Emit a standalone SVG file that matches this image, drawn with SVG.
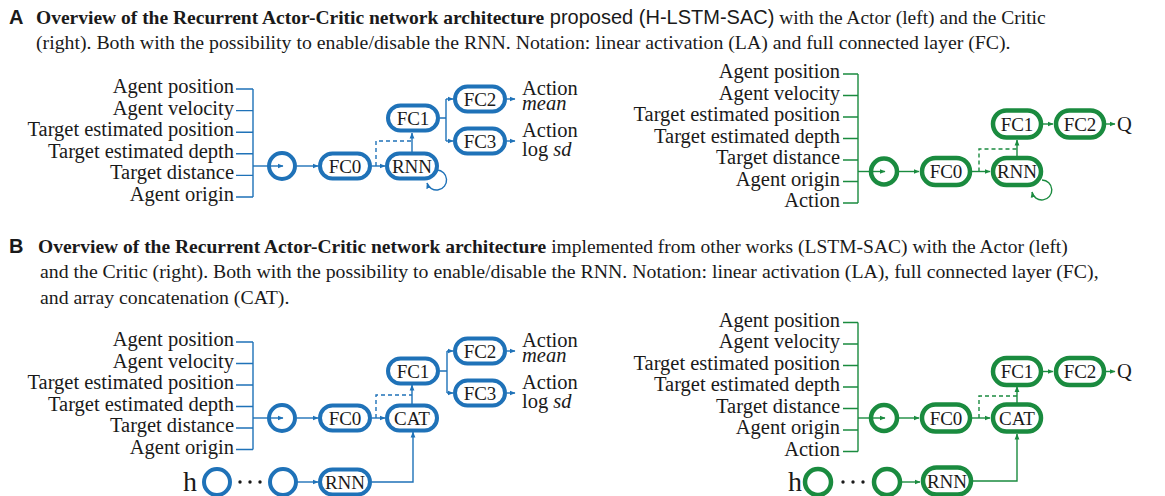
<svg xmlns="http://www.w3.org/2000/svg" width="1165" height="496" viewBox="0 0 1165 496">
<defs>
<marker id="ab" viewBox="0 0 6 6" refX="5.5" refY="3" markerWidth="6" markerHeight="6" markerUnits="userSpaceOnUse" orient="auto"><path d="M0,0.6 L6,3 L0,5.4z" fill="#1f72b8"/></marker>
<marker id="ag" viewBox="0 0 6 6" refX="5.5" refY="3" markerWidth="6" markerHeight="6" markerUnits="userSpaceOnUse" orient="auto"><path d="M0,0.6 L6,3 L0,5.4z" fill="#1a8b3f"/></marker>
</defs>
<style>
text{fill:#1a1a1a}
.h{font-family:"Liberation Serif","Times New Roman",serif;font-size:19.5px}
.h2{font-family:"Liberation Serif","Times New Roman",serif;font-size:19.8px}
.s{font-family:"Liberation Sans",Arial,sans-serif}
.p{font-family:"Liberation Sans",Arial,sans-serif;font-weight:bold;font-size:20px}
.t{font-family:"Liberation Serif","Times New Roman",serif;font-size:20.5px}
.r{text-anchor:end}
.bx{font-family:"Liberation Serif","Times New Roman",serif;font-size:19px;text-anchor:middle}
.nb{fill:#fff;stroke:#1f72b8;stroke-width:4}
.ng{fill:#fff;stroke:#1a8b3f;stroke-width:4.5}
.cb{fill:none;stroke:#1f72b8;stroke-width:4}
.cg{fill:none;stroke:#1a8b3f;stroke-width:4.5}
.lb{fill:none;stroke:#1f72b8;stroke-width:1.4}
.lg{fill:none;stroke:#1a8b3f;stroke-width:1.4}
.mb{marker-end:url(#ab)}
.mg{marker-end:url(#ag)}
.d{stroke-dasharray:4 3}
.hh{font-family:"Liberation Serif","Times New Roman",serif;font-size:28px}
</style>

<!-- headers -->
<g id="captionA">
<text class="p" x="9" y="24">A</text>
<text class="h" x="36" y="24"><tspan font-weight="bold">Overview of the Recurrent Actor-Critic network architecture</tspan><tspan class="s" font-size="20px"> proposed (H-LSTM-SAC)</tspan> with the Actor (left) and the Critic</text>
<text class="h2" x="36" y="49">(right). Both with the possibility to enable/disable the RNN. Notation: linear activation (LA) and full connected layer (FC).</text>
</g>
<g id="captionB">
<text class="p" x="9" y="253">B</text>
<text class="h" x="38" y="253"><tspan font-weight="bold">Overview of the Recurrent Actor-Critic network architecture</tspan> implemented from other works (LSTM-SAC) with the Actor (left)</text>
<text class="h2" x="40" y="278">and the Critic (right). Both with the possibility to enable/disable the RNN. Notation: linear activation (LA), full connected layer (FC),</text>
<text class="h2" x="40" y="304">and array concatenation (CAT).</text>
</g>

<!-- connectors -->
<g id="connectors">
<!-- A actor -->
<path class="lb" d="M236,89H253M236,110.6H253M236,132.2H253M236,153.8H253M236,175.4H253M236,197H253M253,89V197"/>
<path class="lb mb" d="M253,166H283"/>
<path class="lb mb" d="M297,166H318"/>
<path class="lb mb" d="M372,166H385"/>
<path class="lb d" d="M376,166V141H412"/>
<path class="lb mb" d="M412,152V133"/>
<path class="lb" d="M440,118H446M446,99V141"/>
<path class="lb mb" d="M446,99H453"/>
<path class="lb mb" d="M446,141H453"/>
<path class="lb mb" d="M507,99H515"/>
<path class="lb mb" d="M507,141H515"/>
<path class="lb mb" d="M437,170A10,10 0 1 1 427,183"/>
<!-- A critic -->
<path class="lg" d="M843,74H858M843,95.5H858M843,117H858M843,138.5H858M843,160H858M843,181.5H858M843,203H858M858,74V203"/>
<path class="lg mg" d="M858,171.5H885"/>
<path class="lg mg" d="M899,171.5H919"/>
<path class="lg mg" d="M972,171.5H990"/>
<path class="lg d" d="M979,171.5V149H1017"/>
<path class="lg mg" d="M1017,156V140"/>
<path class="lg mg" d="M1043,124H1053"/>
<path class="lg mg" d="M1106,124H1115"/>
<path class="lg mg" d="M1042,180A10,10 0 1 1 1032,192"/>
<!-- B actor -->
<path class="lb" d="M236,342H253M236,363.5H253M236,385H253M236,406.5H253M236,428H253M236,449.5H253M253,342V449.5"/>
<path class="lb mb" d="M253,418H283"/>
<path class="lb mb" d="M297,418H318"/>
<path class="lb mb" d="M372,418H385"/>
<path class="lb d" d="M376,418V395H412"/>
<path class="lb mb" d="M412,404V385"/>
<path class="lb" d="M440,371H447M447,351V393"/>
<path class="lb mb" d="M447,351H453"/>
<path class="lb mb" d="M447,393H453"/>
<path class="lb mb" d="M507,351H515"/>
<path class="lb mb" d="M507,393H515"/>
<path class="lb mb" d="M297,482H318"/>
<path class="lb mb" d="M372,482H413V432"/>
<!-- B critic -->
<path class="lg" d="M843,322.5H858M843,344H858M843,365.5H858M843,387H858M843,408.5H858M843,430H858M843,451.5H858M858,322.5V451.5"/>
<path class="lg mg" d="M858,418H885"/>
<path class="lg mg" d="M899,418H919"/>
<path class="lg mg" d="M972,418H990"/>
<path class="lg d" d="M979,418V396H1017"/>
<path class="lg mg" d="M1017,403V386.5"/>
<path class="lg mg" d="M1043,371.5H1053"/>
<path class="lg mg" d="M1106,371.5H1115"/>
<path class="lg mg" d="M901,482H920"/>
<path class="lg mg" d="M972,481H1017V434"/>
</g>

<!-- A actor nodes -->
<g id="A-actor-inputs">
<text class="t r" x="234" y="93">Agent position</text>
<text class="t r" x="234" y="114.6">Agent velocity</text>
<text class="t r" x="234" y="136.2">Target estimated position</text>
<text class="t r" x="234" y="157.8">Target estimated depth</text>
<text class="t r" x="234" y="179.4">Target distance</text>
<text class="t r" x="234" y="201">Agent origin</text>
</g>
<g id="A-actor-LA"><circle class="cb" cx="282" cy="166" r="13"/></g>
<g id="A-actor-FC0"><rect class="nb" x="320" y="153.5" width="50" height="25" rx="12.5"/><text class="bx" x="345" y="172.5">FC0</text></g>
<g id="A-actor-RNN"><rect class="nb" x="387" y="153.5" width="50" height="25" rx="12.5"/><text class="bx" x="412" y="172.5">RNN</text></g>
<g id="A-actor-FC1"><rect class="nb" x="388" y="105.5" width="50" height="25" rx="12.5"/><text class="bx" x="413" y="124.5">FC1</text></g>
<g id="A-actor-FC2"><rect class="nb" x="455" y="86.5" width="50" height="25" rx="12.5"/><text class="bx" x="480" y="105.5">FC2</text></g>
<g id="A-actor-FC3"><rect class="nb" x="455" y="128.5" width="50" height="25" rx="12.5"/><text class="bx" x="480" y="147.5">FC3</text></g>
<g id="A-actor-out1"><text class="t"><tspan x="522" y="95">Action</tspan><tspan x="522" dy="15" font-style="italic">mean</tspan></text></g>
<g id="A-actor-out2"><text class="t"><tspan x="522" y="137">Action</tspan><tspan x="522" dy="19">log <tspan font-style="italic">sd</tspan></tspan></text></g>

<!-- A critic nodes -->
<g id="A-critic-inputs">
<text class="t r" x="840" y="78">Agent position</text>
<text class="t r" x="840" y="99.5">Agent velocity</text>
<text class="t r" x="840" y="121">Target estimated position</text>
<text class="t r" x="840" y="142.5">Target estimated depth</text>
<text class="t r" x="840" y="164">Target distance</text>
<text class="t r" x="840" y="185.5">Agent origin</text>
<text class="t r" x="840" y="207">Action</text>
</g>
<g id="A-critic-LA"><circle class="cg" cx="884" cy="171.5" r="13"/></g>
<g id="A-critic-FC0"><rect class="ng" x="922" y="158" width="48" height="27" rx="13.5"/><text class="bx" x="946" y="178">FC0</text></g>
<g id="A-critic-RNN"><rect class="ng" x="993" y="158" width="48" height="27" rx="13.5"/><text class="bx" x="1017" y="178">RNN</text></g>
<g id="A-critic-FC1"><rect class="ng" x="993" y="110.5" width="48" height="27" rx="13.5"/><text class="bx" x="1017" y="130.5">FC1</text></g>
<g id="A-critic-FC2"><rect class="ng" x="1056" y="110.5" width="48" height="27" rx="13.5"/><text class="bx" x="1080" y="130.5">FC2</text></g>
<g id="A-critic-Q"><text class="t" x="1117" y="131">Q</text></g>

<!-- B actor nodes -->
<g id="B-actor-inputs">
<text class="t r" x="234" y="346">Agent position</text>
<text class="t r" x="234" y="367.5">Agent velocity</text>
<text class="t r" x="234" y="389">Target estimated position</text>
<text class="t r" x="234" y="410.5">Target estimated depth</text>
<text class="t r" x="234" y="432">Target distance</text>
<text class="t r" x="234" y="453.5">Agent origin</text>
</g>
<g id="B-actor-LA"><circle class="cb" cx="282" cy="418" r="13"/></g>
<g id="B-actor-FC0"><rect class="nb" x="320" y="405.5" width="50" height="25" rx="12.5"/><text class="bx" x="345" y="424.5">FC0</text></g>
<g id="B-actor-CAT"><rect class="nb" x="387" y="405.5" width="50" height="25" rx="12.5"/><text class="bx" x="412" y="424.5">CAT</text></g>
<g id="B-actor-FC1"><rect class="nb" x="388" y="358.5" width="50" height="25" rx="12.5"/><text class="bx" x="413" y="377.5">FC1</text></g>
<g id="B-actor-FC2"><rect class="nb" x="455" y="338.5" width="50" height="25" rx="12.5"/><text class="bx" x="480" y="357.5">FC2</text></g>
<g id="B-actor-FC3"><rect class="nb" x="455" y="380.5" width="50" height="25" rx="12.5"/><text class="bx" x="480" y="399.5">FC3</text></g>
<g id="B-actor-out1"><text class="t"><tspan x="522" y="347">Action</tspan><tspan x="522" dy="15" font-style="italic">mean</tspan></text></g>
<g id="B-actor-out2"><text class="t"><tspan x="522" y="389">Action</tspan><tspan x="522" dy="19">log <tspan font-style="italic">sd</tspan></tspan></text></g>
<g id="B-actor-h"><text class="hh" x="190" y="491" text-anchor="middle">h</text>
<circle class="cb" cx="217" cy="482" r="13"/>
<circle cx="240" cy="482" r="1.7" fill="#1a1a1a"/><circle cx="250" cy="482" r="1.7" fill="#1a1a1a"/><circle cx="260" cy="482" r="1.7" fill="#1a1a1a"/>
<circle class="cb" cx="283" cy="482" r="13"/></g>
<g id="B-actor-RNN"><rect class="nb" x="320" y="469.5" width="50" height="25" rx="12.5"/><text class="bx" x="345" y="488.5">RNN</text></g>

<!-- B critic nodes -->
<g id="B-critic-inputs">
<text class="t r" x="840" y="326.5">Agent position</text>
<text class="t r" x="840" y="348">Agent velocity</text>
<text class="t r" x="840" y="369.5">Target estimated position</text>
<text class="t r" x="840" y="391">Target estimated depth</text>
<text class="t r" x="840" y="412.5">Target distance</text>
<text class="t r" x="840" y="434">Agent origin</text>
<text class="t r" x="840" y="455.5">Action</text>
</g>
<g id="B-critic-LA"><circle class="cg" cx="884" cy="418" r="13"/></g>
<g id="B-critic-FC0"><rect class="ng" x="922" y="404.5" width="48" height="27" rx="13.5"/><text class="bx" x="946" y="424.5">FC0</text></g>
<g id="B-critic-CAT"><rect class="ng" x="993" y="404.5" width="48" height="27" rx="13.5"/><text class="bx" x="1017" y="424.5">CAT</text></g>
<g id="B-critic-FC1"><rect class="ng" x="993" y="358" width="48" height="27" rx="13.5"/><text class="bx" x="1017" y="378">FC1</text></g>
<g id="B-critic-FC2"><rect class="ng" x="1056" y="358" width="48" height="27" rx="13.5"/><text class="bx" x="1080" y="378">FC2</text></g>
<g id="B-critic-Q"><text class="t" x="1117" y="378">Q</text></g>
<g id="B-critic-h"><text class="hh" x="795" y="491" text-anchor="middle">h</text>
<circle class="cg" cx="818" cy="482" r="13"/>
<circle cx="843" cy="482" r="1.7" fill="#1a1a1a"/><circle cx="853" cy="482" r="1.7" fill="#1a1a1a"/><circle cx="863" cy="482" r="1.7" fill="#1a1a1a"/>
<circle class="cg" cx="887" cy="482" r="13"/></g>
<g id="B-critic-RNN"><rect class="ng" x="923" y="467.5" width="48" height="27" rx="13.5"/><text class="bx" x="947" y="487.5">RNN</text></g>
</svg>
